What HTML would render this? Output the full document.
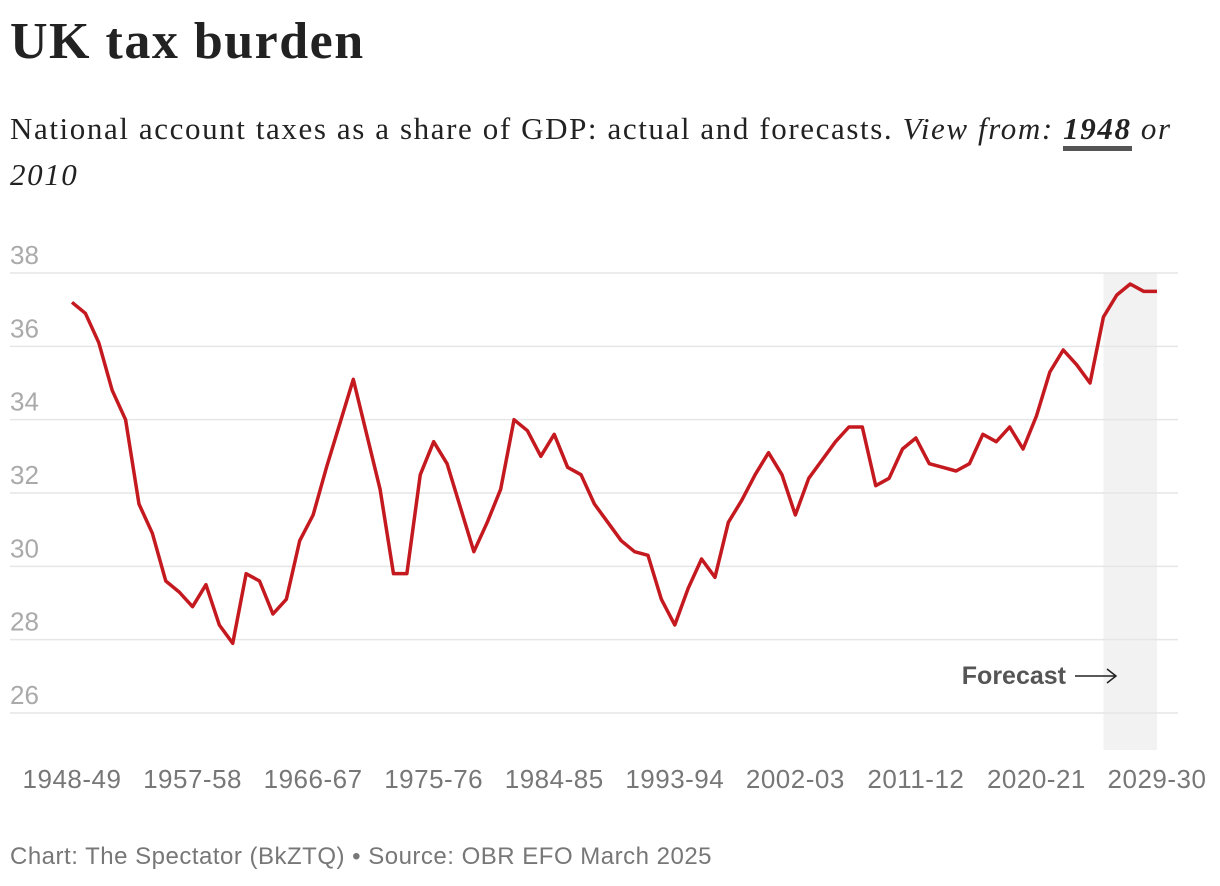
<!DOCTYPE html>
<html><head><meta charset="utf-8">
<style>
body{margin:0;width:1220px;height:886px;background:#fff;overflow:hidden;font-family:"Liberation Sans",sans-serif}
.title{position:absolute;left:10px;top:12px;font:bold 52px "Liberation Serif",serif;color:#222;letter-spacing:1.5px}
.sub{position:absolute;left:10px;top:106px;width:1210px;font:31px/46px "Liberation Serif",serif;color:#222;letter-spacing:1.6px}
.sub a{font-weight:bold;color:#222;text-decoration:none;border-bottom:5px solid #555}
.src{position:absolute;left:10px;top:843px;font:24px "Liberation Sans",sans-serif;color:#777;letter-spacing:0.5px}
</style></head><body>
<div class="title">UK tax burden</div>
<div class="sub">National account taxes as a share of GDP: actual and forecasts. <i>View from: <a>1948</a> or<br><span>2010</span></i></div>
<svg id="chart" width="1220" height="886" style="position:absolute;left:0;top:0"></svg>
<div class="src">Chart: The Spectator (BkZTQ) • Source: OBR EFO March 2025</div>
<script>
const startYear = 1948;
const values = [37.2,36.9,36.1,34.8,34.0,31.7,30.9,29.6,29.3,28.9,29.5,28.4,27.9,29.8,29.6,28.7,29.1,30.7,31.4,32.7,33.9,35.1,33.6,32.1,29.8,29.8,32.5,33.4,32.8,31.6,30.4,31.2,32.1,34.0,33.7,33.0,33.6,32.7,32.5,31.7,31.2,30.7,30.4,30.3,29.1,28.4,29.4,30.2,29.7,31.2,31.8,32.5,33.1,32.5,31.4,32.4,32.9,33.4,33.8,33.8,32.2,32.4,33.2,33.5,32.8,32.7,32.6,32.8,33.6,33.4,33.8,33.2,34.1,35.3,35.9,35.5,35.0,36.8,37.4,37.7,37.5,37.5];
const yTicks = [26,28,30,32,34,36,38];
const xTickLabels = ["1948-49","1957-58","1966-67","1975-76","1984-85","1993-94","2002-03","2011-12","2020-21","2029-30"];
const xTickYears = [1948,1957,1966,1975,1984,1993,2002,2011,2020,2029];
const forecastStart = 2025;

const NS="http://www.w3.org/2000/svg";
const svg=document.getElementById('chart');
const x0=72,x1=1157,yTop=273,yBot=713;
const endYear=startYear+values.length-1;
const X=y=>x0+(y-startYear)*(x1-x0)/(endYear-startYear);
const Y=v=>yBot-(v-26)*(yBot-yTop)/(38-26);
function mk(t,a){const e=document.createElementNS(NS,t);for(const k in a)e.setAttribute(k,a[k]);svg.appendChild(e);return e;}

const band=mk('rect',{x:X(forecastStart),y:yTop,width:X(endYear)-X(forecastStart),height:750-yTop,fill:'#f2f2f2'});



yTicks.forEach(v=>{
  const l=mk('line',{x1:10,x2:1178,y1:Y(v),y2:Y(v),stroke:'#e6e6e6','stroke-width':1.5});
  
  
  const t=mk('text',{x:10,y:Y(v)-9,fill:'#aaa','font-size':26,'font-family':'Liberation Sans, sans-serif'});
  t.textContent=v;
  
  
});

xTickLabels.forEach((lab,i)=>{
  const t=mk('text',{x:X(xTickYears[i]),y:788,fill:'#777','font-size':26,'text-anchor':'middle','font-family':'Liberation Sans, sans-serif','letter-spacing':0.5});
  t.textContent=lab;
  
  
});

const p=mk('polyline',{points:values.map((v,i)=>X(startYear+i)+','+Y(v)).join(' '),fill:'none',stroke:'#c4191f','stroke-width':3.5,'stroke-linejoin':'round'});



const ft=mk('text',{x:1066,y:684,fill:'#555','font-size':25,'font-weight':'bold','text-anchor':'end','font-family':'Liberation Sans, sans-serif'});
ft.textContent='Forecast';


const ar=mk('path',{d:'M1075 676 H1116 M1107 669 L1116 676 L1107 683',fill:'none',stroke:'#222','stroke-width':1.5});


</script>
</body></html>
